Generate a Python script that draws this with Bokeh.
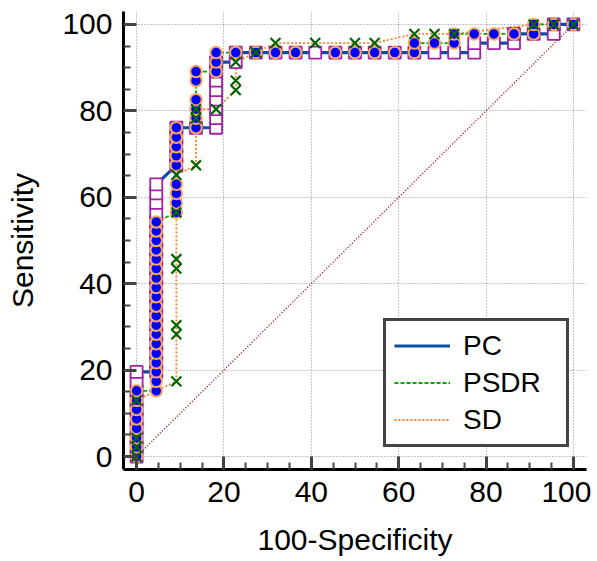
from bokeh.plotting import figure
from bokeh.models import FixedTicker, Range1d, Legend, LegendItem
from bokeh.embed import file_html
from bokeh.resources import INLINE

# ---- data ----
pc_x = [0, 0, 0, 0, 0, 0, 0, 0, 0, 0,
        4.5, 4.5, 4.5, 4.5, 4.5, 4.5, 4.5, 4.5, 4.5, 4.5, 4.5, 4.5, 4.5, 4.5, 4.5, 4.5, 4.5, 4.5, 4.5, 4.5, 4.5,
        9.1, 9.1, 9.1, 9.1, 9.1,
        13.6,
        18.2, 18.2, 18.2, 18.2, 18.2, 18.2, 18.2, 18.2,
        22.7, 22.7,
        27.3, 31.8, 36.4, 40.9, 45.5, 50.0, 54.5, 59.1, 63.6, 68.2, 72.7, 77.3,
        77.3, 81.8, 86.4, 86.4, 90.9, 95.5, 95.5, 100]
pc_y = [0, 2.2, 4.3, 6.5, 8.7, 10.9, 13.0, 15.2, 17.4, 19.6,
        19.6, 21.7, 23.9, 26.1, 28.3, 30.4, 32.6, 34.8, 37.0, 39.1, 41.3, 43.5, 45.7, 47.8, 50.0, 52.2, 54.3, 56.5, 58.7, 60.9, 63.0,
        67.4, 69.6, 71.7, 73.9, 76.1,
        76.1,
        76.1, 78.3, 80.4, 82.6, 84.8, 87.0, 89.1, 91.3,
        91.3, 93.5,
        93.5, 93.5, 93.5, 93.5, 93.5, 93.5, 93.5, 93.5, 93.5, 93.5, 93.5, 93.5,
        95.7, 95.7, 95.7, 97.8, 97.8, 97.8, 100, 100]

psdr_x = [0, 0, 0, 0, 0, 0, 0, 0,
          4.5, 4.5, 4.5, 4.5, 4.5, 4.5, 4.5, 4.5, 4.5, 4.5, 4.5, 4.5, 4.5, 4.5, 4.5, 4.5, 4.5, 4.5, 4.5,
          9.1, 9.1, 9.1, 9.1, 9.1, 9.1, 9.1, 9.1, 9.1,
          13.6, 13.6, 13.6, 13.6, 13.6, 13.6,
          18.2, 18.2, 18.2,
          22.7, 27.3, 31.8, 36.4, 45.5, 50.0, 54.5, 59.1, 63.6,
          63.6, 68.2, 72.7, 72.7, 77.3, 81.8, 86.4, 90.9, 90.9, 95.5, 100]
psdr_y = [0, 2.2, 4.3, 6.5, 8.7, 10.9, 13.0, 15.2,
          15.2, 17.4, 19.6, 21.7, 23.9, 26.1, 28.3, 30.4, 32.6, 34.8, 37.0, 39.1, 41.3, 43.5, 45.7, 47.8, 50.0, 52.2, 54.3,
          56.5, 58.7, 60.9, 63.0, 67.4, 69.6, 71.7, 73.9, 76.1,
          76.1, 78.3, 80.4, 82.6, 87.0, 89.1,
          89.1, 91.3, 93.5,
          93.5, 93.5, 93.5, 93.5, 93.5, 93.5, 93.5, 93.5, 93.5,
          95.7, 95.7, 95.7, 97.8, 97.8, 97.8, 97.8, 97.8, 100, 100, 100]

sd_x = [0, 0, 0, 0,
        9.1, 9.1, 9.1, 9.1, 9.1, 9.1, 9.1,
        13.6, 13.6, 13.6,
        18.2,
        22.7, 22.7, 22.7,
        27.3,
        31.8, 40.9, 50.0, 54.5,
        63.6, 68.2, 72.7,
        90.9, 95.5, 100]
sd_y = [0, 2.2, 4.3, 13.0,
        17.4, 28.3, 30.4, 43.5, 45.7, 56.5, 65.2,
        67.4, 78.3, 80.4,
        80.4,
        84.8, 87.0, 91.3,
        93.5,
        95.7, 95.7, 95.7, 95.7,
        97.8, 97.8, 97.8,
        100, 100, 100]

diag_x = [0, 100]
diag_y = [0, 100]

major_ticks = [0, 20, 40, 60, 80, 100]
minor_ticks = [5, 10, 15, 25, 30, 35, 45, 50, 55, 65, 70, 75, 85, 90, 95]
series_labels = ["PC", "PSDR", "SD"]

FONT = "Liberation Sans"

p = figure(width=591, height=558, output_backend="svg", toolbar_location=None,
           x_range=Range1d(-3, 103), y_range=Range1d(-3, 103),
           min_border_left=123, min_border_right=5, min_border_top=11, min_border_bottom=85)
p.outline_line_color = None
p.background_fill_color = "white"

for ax in (p.xaxis[0], p.yaxis[0]):
    ax.ticker = FixedTicker(ticks=major_ticks, minor_ticks=minor_ticks)
    ax.axis_line_color = "black"
    ax.axis_line_width = 3
    ax.major_tick_in = 13
    ax.major_tick_out = 0
    ax.minor_tick_in = 7
    ax.minor_tick_out = 0
    ax.major_tick_line_color = "#444444"
    ax.major_tick_line_width = 3
    ax.minor_tick_line_color = "#444444"
    ax.minor_tick_line_width = 2
    ax.major_label_text_font = FONT
    ax.major_label_text_font_size = "30px"
    ax.major_label_text_color = "black"
    ax.axis_label_text_font = FONT
    ax.axis_label_text_font_size = "30px"
    ax.axis_label_text_font_style = "normal"
    ax.axis_label_text_color = "black"

p.xaxis.axis_label = "100-Specificity"
p.yaxis.axis_label = "Sensitivity"
p.xaxis.major_label_standoff = 12
p.yaxis.major_label_standoff = 11
p.xaxis.axis_label_standoff = 18
p.yaxis.axis_label_standoff = 20

for g in (p.xgrid[0], p.ygrid[0]):
    g.grid_line_color = "#8C8C8C"
    g.grid_line_dash = "1 2"
    g.grid_line_width = 1

# diagonal reference line
p.line(diag_x, diag_y, line_color="#8B1A1A", line_dash="1 2", line_width=1.5)

# curves
sd_line = p.line(sd_x, sd_y, line_color="#FF7F2A", line_dash="2 2", line_width=1.8)
psdr_line = p.line(psdr_x, psdr_y, line_color="#00AA00", line_dash="4 2", line_width=1.8)
pc_line = p.line(pc_x, pc_y, line_color="#0B4F9F", line_width=3.2)

# markers
p.scatter(pc_x, pc_y, marker="square", size=12, fill_color="white",
          line_color="#A020A8", line_width=1.8)
p.scatter(psdr_x, psdr_y, marker="circle", size=11.5, fill_color="#0000FF",
          line_color="#F7A860", line_width=2)
p.scatter(sd_x, sd_y, marker="x", size=14, line_color="#006400", line_width=2.2)

legend = Legend(items=[LegendItem(label=series_labels[0], renderers=[pc_line]),
                       LegendItem(label=series_labels[1], renderers=[psdr_line]),
                       LegendItem(label=series_labels[2], renderers=[sd_line])],
                location=(260, 22))
legend.label_text_font = FONT
legend.label_text_font_size = "28px"
legend.label_text_color = "black"
legend.label_height = 33
legend.glyph_height = 33
legend.glyph_width = 56
legend.label_standoff = 13
legend.label_width = 95
legend.spacing = 4
legend.padding = 8
legend.margin = 0
legend.border_line_color = "#444444"
legend.border_line_alpha = 1.0
legend.border_line_width = 3
legend.background_fill_color = "white"
legend.background_fill_alpha = 1.0
p.add_layout(legend, "center")

open("out.html", "w").write(file_html(p, INLINE))
